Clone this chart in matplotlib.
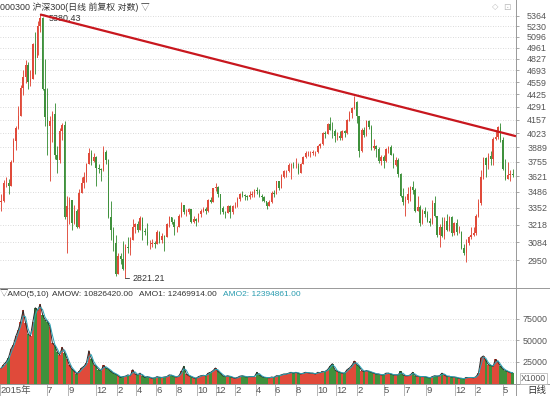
import numpy as np
import pandas as pd
import matplotlib
matplotlib.use("Agg")
import matplotlib.pyplot as plt
from matplotlib.lines import Line2D
from matplotlib.ticker import NullLocator

plt.rcParams['font.family'] = ['Liberation Sans', 'Noto Sans CJK SC', 'DejaVu Sans']

# CSI 300, Feb 2015 - Jun 2019, one candle per 5 trading days
first_open = 3400
close = [3410, 3560, 3560, 3540, 3750, 3950, 4080, 4200, 4500, 4620,
         4750, 4560, 4600, 5010, 4840, 5230, 5340, 4480, 4190, 4100,
         4150, 4220, 3820, 3770, 4050, 4110, 3280, 3370, 3420, 3230,
         3330, 3200, 3480, 3560, 3620, 3730, 3830, 3760, 3800, 3700,
         3690, 3680, 3840, 3770, 3280, 3180, 3080, 2850, 2980, 2960,
         2890, 3050, 3040, 3100, 3200, 3220, 3180, 3270, 3170, 3160,
         3070, 3070, 3080, 3070, 3160, 3100, 3130, 3120, 3220, 3280,
         3240, 3200, 3200, 3290, 3380, 3320, 3320, 3340, 3240, 3260,
         3250, 3300, 3330, 3340, 3330, 3420, 3400, 3520, 3530, 3470,
         3350, 3320, 3310, 3370, 3320, 3370, 3370, 3430, 3470, 3460,
         3450, 3440, 3460, 3470, 3500, 3490, 3450, 3440, 3410, 3370,
         3400, 3480, 3470, 3580, 3520, 3620, 3670, 3670, 3720, 3720,
         3710, 3710, 3650, 3730, 3800, 3830, 3830, 3830, 3840, 3840,
         3900, 3920, 4030, 4020, 4120, 4060, 4050, 4000, 4000, 3980,
         4050, 4030, 4160, 4230, 4280, 4340, 4200, 3850, 4060, 4010,
         4150, 4090, 3880, 3900, 3870, 3760, 3800, 3760, 3870, 3890,
         3820, 3720, 3770, 3640, 3450, 3400, 3420, 3470, 3530, 3500,
         3330, 3360, 3230, 3330, 3300, 3250, 3230, 3390, 3290, 3140,
         3200, 3130, 3250, 3180, 3280, 3150, 3230, 3160, 3160, 3040,
         3000, 3080, 3120, 3140, 3150, 3290, 3390, 3620, 3790, 3720,
         3810, 3780, 3970, 3990, 4090, 3960, 3690, 3600, 3630, 3640, 3630]
high = [3470, 3590, 3620, 3600, 3770, 3980, 4100, 4300, 4530, 4700,
        4810, 4790, 4700, 5020, 5150, 5290, 5380.43, 5350, 4820, 4500,
        4200, 4250, 4330, 3900, 4080, 4130, 4150, 3450, 3440, 3420,
        3380, 3340, 3510, 3620, 3660, 3740, 3880, 3860, 3830, 3810,
        3730, 3700, 3900, 3860, 3780, 3410, 3200, 3140, 3000, 3000,
        3090, 3070, 3120, 3120, 3260, 3230, 3250, 3290, 3280, 3190,
        3230, 3100, 3110, 3090, 3180, 3170, 3150, 3140, 3230, 3290,
        3280, 3260, 3210, 3300, 3400, 3380, 3340, 3350, 3340, 3290,
        3270, 3310, 3340, 3360, 3360, 3430, 3440, 3520, 3560, 3540,
        3450, 3370, 3330, 3380, 3380, 3380, 3400, 3440, 3480, 3490,
        3470, 3460, 3490, 3490, 3510, 3530, 3510, 3470, 3450, 3400,
        3420, 3490, 3500, 3580, 3580, 3640, 3680, 3680, 3740, 3740,
        3750, 3790, 3740, 3740, 3810, 3850, 3850, 3850, 3860, 3850,
        3910, 3930, 4040, 4050, 4130, 4190, 4140, 4070, 4040, 4050,
        4060, 4060, 4170, 4250, 4290, 4403, 4350, 4200, 4080, 4090,
        4160, 4160, 4110, 3970, 3910, 3890, 3820, 3820, 3880, 3900,
        3910, 3830, 3800, 3790, 3650, 3520, 3450, 3530, 3540, 3580,
        3520, 3450, 3380, 3340, 3360, 3330, 3270, 3420, 3450, 3290,
        3220, 3280, 3280, 3300, 3290, 3290, 3240, 3260, 3210, 3170,
        3070, 3110, 3130, 3200, 3200, 3300, 3430, 3680, 3800, 3800,
        3830, 3850, 3990, 4060, 4100, 4127, 3990, 3780, 3750, 3680, 3690]
low = [3330, 3400, 3530, 3470, 3540, 3750, 3860, 4070, 4200, 4420,
       4550, 4480, 4520, 4590, 4650, 4870, 5160, 4470, 4100, 3820,
       3580, 3940, 3780, 3650, 3740, 3960, 3260, 3000, 3220, 3180,
       3220, 3190, 3190, 3480, 3520, 3570, 3730, 3720, 3750, 3540,
       3650, 3580, 3670, 3730, 3270, 3100, 3020, 2840, 2850, 2920,
       2880, 2821.21, 3000, 2990, 3100, 3150, 3160, 3180, 3100, 3140,
       3060, 3030, 3050, 3040, 3070, 3080, 3080, 3020, 3120, 3200,
       3220, 3140, 3160, 3200, 3280, 3300, 3290, 3300, 3230, 3230,
       3210, 3240, 3280, 3320, 3300, 3320, 3390, 3400, 3490, 3440,
       3300, 3300, 3270, 3310, 3270, 3300, 3350, 3360, 3410, 3440,
       3420, 3420, 3430, 3440, 3440, 3470, 3440, 3410, 3400, 3340,
       3370, 3390, 3440, 3470, 3500, 3520, 3610, 3620, 3660, 3600,
       3700, 3700, 3640, 3650, 3730, 3790, 3810, 3800, 3820, 3810,
       3830, 3880, 3910, 3980, 4020, 4060, 3980, 3940, 3960, 3960,
       3960, 3990, 4020, 4150, 4180, 4270, 4130, 3800, 3840, 3990,
       4000, 4070, 3860, 3860, 3800, 3740, 3720, 3700, 3750, 3830,
       3820, 3700, 3710, 3620, 3440, 3380, 3290, 3390, 3410, 3470,
       3320, 3330, 3210, 3220, 3280, 3240, 3210, 3220, 3280, 3120,
       3050, 3120, 3110, 3170, 3170, 3130, 3140, 3140, 3150, 3030,
       2990, 2935, 3060, 3110, 3130, 3140, 3280, 3380, 3600, 3620,
       3690, 3720, 3720, 3960, 3970, 3940, 3680, 3590, 3600, 3580, 3620]
# daily turnover, averaged per candle (x1000)
amount = [18000, 22000, 25000, 30000, 40000, 45000, 55000, 62000, 72000, 85000,
          70000, 58000, 55000, 72000, 88000, 85000, 92000, 80000, 74000, 72000,
          66000, 47000, 44000, 37000, 33000, 42000, 36000, 29000, 21000, 17000,
          14000, 11000, 14000, 18000, 20000, 24000, 38000, 29000, 22000, 20000,
          16000, 15000, 21000, 18000, 17000, 14000, 12000, 11000, 9000, 7000,
          8000, 8500, 10000, 9000, 16000, 11000, 10000, 12000, 9000, 7000,
          8000, 7000, 6000, 6500, 8000, 7000, 7000, 7500, 8000, 10000,
          9500, 8000, 7500, 9000, 14000, 20000, 11000, 9000, 8000, 6500,
          6000, 8000, 9000, 9500, 9000, 12000, 13000, 15000, 18000, 14000,
          12000, 9000, 8000, 9000, 8000, 7000, 6000, 7000, 8500, 9000,
          8000, 7500, 8000, 8000, 8000, 13000, 10000, 8000, 7000, 7000,
          6500, 7500, 7000, 9000, 9000, 10000, 11000, 11000, 12000, 13000,
          12000, 13000, 12000, 11000, 12000, 13000, 12500, 12000, 12000, 11000,
          13000, 12500, 14000, 14000, 16000, 20000, 23000, 16000, 14000, 13000,
          12000, 12000, 16000, 18000, 21000, 26000, 22000, 20000, 15000, 14000,
          15000, 14000, 13000, 12000, 11000, 11000, 10000, 10000, 12000, 12000,
          11000, 10000, 10000, 10000, 14000, 10000, 9000, 9000, 10000, 13000,
          9000, 8500, 8000, 8000, 8000, 7000, 6500, 8000, 9000, 8500,
          9000, 12000, 10000, 8000, 8500, 7500, 7500, 7000, 6000, 6000,
          5500, 7000, 7000, 7000, 6500, 8000, 12000, 30000, 32000, 27000,
          22000, 21000, 20000, 28000, 25000, 20000, 17000, 15000, 14000, 12500, 12470]

price_ticks = [2950, 3084, 3218, 3352, 3486, 3621, 3755, 3889, 4023, 4157,
               4291, 4425, 4559, 4693, 4827, 4961, 5096, 5230, 5364]
amount_ticks = [25000, 50000, 75000]
# trading-day index of first session of each labelled month
month_days = [0, 96, 140, 198, 241, 280, 321, 362, 405, 443, 483, 526, 564,
              607, 651, 690, 733, 788, 830, 875, 934, 976, 1033]
month_labels = ['2015年', '7', '9', '12', '2', '4', '6', '8', '10', '12', '2', '4', '6',
                '8', '10', '12', '2', '5', '7', '9', '12', '2', '5']
trend_start = (82.5, 5380.43)
trend_end = (1059.5, 3995)

BLOCK = 5
n = len(close)
x = np.arange(n) * BLOCK + BLOCK / 2
c = np.array(close, dtype=float)
o = np.concatenate([[first_open], c[:-1]])
h = np.array(high, dtype=float)
l = np.array(low, dtype=float)
up = c >= o

RED = '#e04a3a'
GREEN = '#3f913c'
GRID = '#cfcfcf'
TXT = '#555555'

W, H = 550, 396
fig = plt.figure(figsize=(W / 100, H / 100), dpi=100)

def fx(px):
    return px / W

def fy(py):
    return 1 - py / H

ax = fig.add_axes([0, fy(287), fx(516), 287 / H])
axv = fig.add_axes([0, fy(383.5), fx(516), (383.5 - 288) / H])

# price candles
cols = np.where(up, RED, GREEN)
ax.vlines(x, l, h, colors=cols, lw=0.65, zorder=3)
bot = np.minimum(o, c)
top = np.maximum(o, c)
ax.bar(x, top - bot, bottom=bot, width=3.0, color=cols, lw=0, zorder=3)

ax.plot([trend_start[0], trend_end[0]], [trend_start[1], trend_end[1]],
        color='#c8171e', lw=1.6, zorder=4, solid_capstyle='butt')

ax.set_yscale('log')
ax.set_ylim(2763, 5574)
ax.set_xlim(0, 1059.5)
ax.yaxis.tick_right()
ax.yaxis.set_minor_locator(NullLocator())
ax.set_yticks(price_ticks)
ax.set_yticklabels([str(t) for t in price_ticks])
ax.tick_params(axis='y', direction='out', length=2, width=0.6, color='#999999',
               pad=6, labelsize=6.4, labelcolor=TXT)
ax.set_xticks([])
for t in price_ticks:
    ax.axhline(t, color=GRID, lw=0.6, ls=(0, (1, 2)), zorder=1)
for s in ['left', 'top', 'bottom', 'right']:
    ax.spines[s].set_visible(False)

ax.annotate('5380.43', xy=trend_start, xytext=(6, -3), textcoords='offset points',
            fontsize=6.4, color='#333333', va='center', ha='left',
            arrowprops=dict(arrowstyle='-', color='#333333', lw=0.6, shrinkA=0, shrinkB=0))
ax.annotate('2821.21', xy=(x[51], 2821.21), xytext=(5, 0), textcoords='offset points',
            fontsize=6.4, color='#333333', va='center', ha='left',
            arrowprops=dict(arrowstyle='-', color='#333333', lw=0.6, shrinkA=0, shrinkB=0))

# turnover panel
amo1 = pd.Series(amount, dtype=float)
amo2 = amo1.rolling(2, min_periods=1).mean()
axv.bar(x, amount, width=BLOCK, color=cols, lw=0, zorder=2)
axv.plot(x, amo1, color='#2b2b2b', lw=0.7, zorder=3)
axv.plot(x, amo2, color='#2aa3b5', lw=0.7, zorder=3)
axv.set_xlim(0, 1059.5)
axv.set_ylim(0, 111000)
axv.yaxis.tick_right()
axv.set_yticks(amount_ticks)
axv.set_yticklabels([str(t) for t in amount_ticks])
axv.tick_params(axis='y', direction='out', length=2, width=0.6, color='#999999',
                pad=3, labelsize=6.4, labelcolor=TXT)
for t in amount_ticks:
    axv.axhline(t, color=GRID, lw=0.6, ls=(0, (1, 2)), zorder=1)
axv.set_xticks(month_days)
axv.set_xticklabels(month_labels, ha='left')
axv.tick_params(axis='x', direction='out', length=9, width=0.6, color='#aaaaaa',
                pad=-7.5, labelsize=6.8, labelcolor=TXT)
for s in ['left', 'top', 'right']:
    axv.spines[s].set_visible(False)
axv.spines['bottom'].set_color('#999999')
axv.spines['bottom'].set_linewidth(0.7)

# frame lines
fig.add_artist(Line2D([fx(516), fx(516)], [0, 1], color='#999999', lw=0.7))
fig.add_artist(Line2D([0, 1], [fy(287.5), fy(287.5)], color='#999999', lw=0.7))
fig.add_artist(Line2D([0, 1], [fy(383.5), fy(383.5)], color='#999999', lw=0.7))

# header texts
fig.text(fx(0), fy(7), '000300 沪深300(日线 前复权 对数) ▽', fontsize=6.4,
         color='#333333', va='center', ha='left')
fig.text(fx(492), fy(7), '◇', fontsize=6, color='#bbbbbb', va='center', ha='left',
         family='DejaVu Sans')
fig.text(fx(503), fy(7), '⊡', fontsize=6.5, color='#bbbbbb', va='center', ha='left',
         family='DejaVu Sans')
hdr = dict(fontsize=6.0, va='center', ha='left')
fig.text(fx(0), fy(294), '▽AMO(5,10)', color='#333333', **hdr)
fig.text(fx(52), fy(294), 'AMOW: 10826420.00', color='#333333', **hdr)
fig.text(fx(139), fy(294), 'AMO1: 12469914.00', color='#333333', **hdr)
fig.text(fx(223), fy(294), 'AMO2: 12394861.00', color='#2a9cb0', **hdr)
fig.text(fx(521), fy(378.5), 'X1000', fontsize=6.2, color=TXT, va='center', ha='left',
         bbox=dict(boxstyle='square,pad=0.15', fc='white', ec='#bbbbbb', lw=0.6))
fig.text(fx(527), fy(390), '日线', fontsize=6.8, color='#333333', va='center', ha='left')

fig.savefig('out.png', dpi=100)
